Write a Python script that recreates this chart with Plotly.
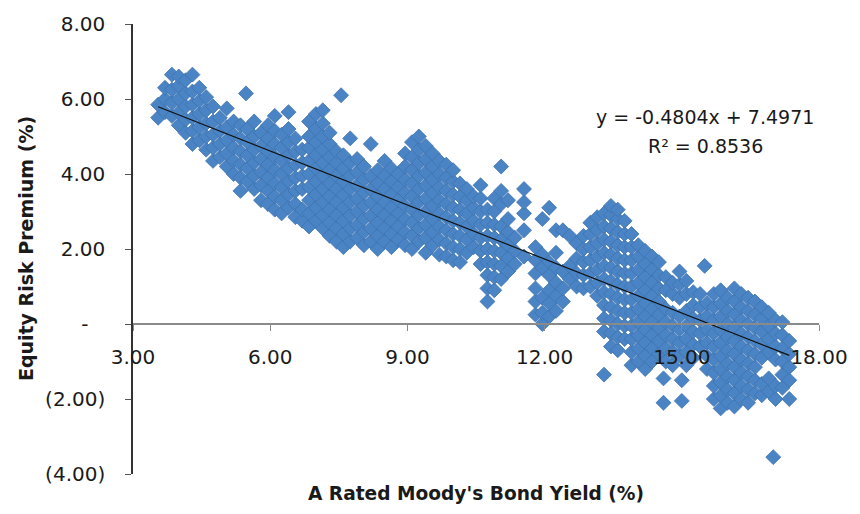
import plotly.graph_objects as go

# Bond yield columns (x, %) and the equity risk premium values (%) observed at each
yield_cols = [3.55, 3.7, 3.85, 4.0, 4.15, 4.3, 4.45, 4.6, 4.75, 4.9, 5.05, 5.2, 5.35, 5.47, 5.5,
              5.65, 5.8, 5.95, 6.1, 6.25, 6.4, 6.55, 6.7, 6.85, 7.0, 7.15, 7.3, 7.45, 7.55, 7.6,
              7.75, 7.9, 8.05, 8.2, 8.35, 8.5, 8.65, 8.8, 8.95, 9.1, 9.25, 9.4, 9.55, 9.7, 9.85,
              10.0, 10.15, 10.3, 10.45, 10.6, 10.75, 10.9, 11.05, 11.2, 11.35, 11.55, 11.8, 11.95,
              12.1, 12.25, 12.4, 12.55, 12.7, 12.85, 13.0, 13.15, 13.3, 13.45, 13.6, 13.75, 13.9,
              14.05, 14.2, 14.35, 14.5, 14.6, 14.65, 14.8, 14.95, 15.0, 15.1, 15.25, 15.4, 15.5,
              15.55, 15.7, 15.85, 16.0, 16.15, 16.3, 16.45, 16.6, 16.75, 16.9, 17.0, 17.05, 17.2,
              17.35]

premium_cols = [
    [5.5, 5.85],
    [5.65, 6.0, 6.3],
    [5.55, 5.9, 6.25, 6.65],
    [5.3, 5.65, 6.0, 6.35, 6.6],
    [5.1, 5.45, 5.8, 6.15, 6.5],
    [4.8, 5.15, 5.5, 5.85, 6.2, 6.65],
    [4.9, 5.25, 5.6, 5.95, 6.3],
    [4.65, 5.0, 5.35, 5.7, 6.05],
    [4.35, 4.7, 5.05, 5.4, 5.8],
    [4.45, 4.8, 5.15, 5.5],
    [4.2, 4.55, 4.9, 5.25, 5.75],
    [4.0, 4.35, 4.7, 5.05, 5.4],
    [3.55, 3.9, 4.25, 4.6, 4.95, 5.3],
    [6.15],
    [3.8, 4.15, 4.5, 4.85, 5.2],
    [3.6, 3.95, 4.3, 4.65, 5.0, 5.4],
    [3.3, 3.7, 4.05, 4.4, 4.75, 5.1],
    [3.2, 3.55, 3.9, 4.25, 4.6, 4.95, 5.3],
    [3.05, 3.4, 3.75, 4.1, 4.45, 4.8, 5.15, 5.55],
    [2.95, 3.3, 3.65, 4.0, 4.35, 4.7, 5.05],
    [3.1, 3.45, 3.8, 4.15, 4.5, 4.85, 5.2, 5.65],
    [2.85, 3.2, 3.55, 3.9, 4.25, 4.6, 4.95],
    [2.75, 3.05, 3.6, 3.95, 4.3, 4.65],
    [2.6, 2.95, 3.3, 3.65, 4.0, 4.35, 4.7, 5.0, 5.4],
    [2.75, 3.1, 3.45, 3.8, 4.15, 4.5, 4.85, 5.2, 5.6],
    [2.55, 2.9, 3.25, 3.6, 3.95, 4.3, 4.65, 5.0, 5.35, 5.7],
    [2.35, 2.7, 3.05, 3.4, 3.75, 4.1, 4.45, 4.8, 5.1],
    [2.2, 2.55, 2.9, 3.25, 3.6, 3.95, 4.3, 4.6],
    [6.1],
    [2.05, 2.4, 2.75, 3.1, 3.45, 3.8, 4.15, 4.5],
    [2.2, 2.55, 2.9, 3.25, 3.6, 3.95, 4.3, 4.95],
    [2.3, 2.65, 3.0, 3.35, 3.7, 4.05, 4.4],
    [2.1, 2.45, 2.8, 3.15, 3.5, 3.85, 4.2],
    [2.2, 2.55, 2.9, 3.25, 3.6, 3.95, 4.8],
    [2.0, 2.35, 2.7, 3.05, 3.4, 3.75, 4.1],
    [2.2, 2.55, 2.9, 3.25, 3.6, 3.95, 4.35],
    [2.05, 2.4, 2.75, 3.1, 3.45, 3.8, 4.15],
    [2.25, 2.6, 2.95, 3.3, 3.65, 4.0],
    [2.1, 2.45, 2.8, 3.15, 3.5, 3.85, 4.2, 4.55],
    [2.0, 2.35, 2.7, 3.05, 3.4, 3.75, 4.1, 4.45, 4.85],
    [2.2, 2.55, 2.9, 3.25, 3.6, 3.95, 4.3, 4.65, 5.0],
    [1.9, 2.3, 2.65, 3.0, 3.35, 3.7, 4.05, 4.4, 4.75],
    [2.1, 2.45, 2.8, 3.15, 3.5, 3.85, 4.2, 4.55],
    [1.85, 2.25, 2.6, 2.95, 3.3, 3.65, 4.0, 4.35],
    [1.8, 2.15, 2.5, 2.85, 3.2, 3.55, 3.9, 4.25],
    [1.7, 2.05, 2.4, 2.75, 3.1, 3.45, 3.8, 4.1],
    [1.65, 2.0, 2.35, 2.7, 3.05, 3.4, 3.75],
    [1.9, 2.25, 2.6, 2.95, 3.3, 3.6],
    [2.05, 2.4, 2.75, 3.1, 3.4],
    [1.6, 1.95, 2.3, 2.65, 3.0, 3.35, 3.7],
    [0.6, 0.95, 1.3, 1.65, 2.0, 2.35, 2.7, 3.05],
    [0.9, 1.25, 1.6, 1.95, 2.3, 2.65, 3.0, 3.35],
    [1.2, 1.55, 1.9, 2.25, 2.6, 3.2, 3.55, 4.2],
    [1.4, 1.75, 2.1, 2.45, 2.8, 3.3],
    [1.6, 1.95, 2.3],
    [1.8, 2.5, 2.95, 3.25, 3.6],
    [0.25, 0.6, 0.95, 1.35, 1.7, 2.05],
    [0.0, 0.3, 0.7, 1.5, 1.85, 2.8],
    [0.2, 0.55, 0.9, 1.3, 1.65, 3.1],
    [0.35, 0.75, 1.1, 1.5, 1.9, 2.5],
    [0.6, 0.95, 1.4, 2.5],
    [1.2, 1.55, 2.35],
    [1.0, 1.35, 1.75, 2.15],
    [0.95, 1.3, 1.65, 2.0, 2.35],
    [1.0, 1.35, 1.7, 2.05, 2.4, 2.7],
    [0.75, 1.1, 1.45, 1.8, 2.15, 2.5, 2.85],
    [-1.35, -0.2, 0.15, 0.5, 0.85, 1.2, 1.55, 1.9, 2.25, 2.6, 2.95],
    [-0.6, -0.25, 0.1, 0.45, 0.8, 1.15, 1.5, 1.85, 2.2, 2.55, 2.9, 3.15],
    [-0.7, -0.35, 0.0, 0.35, 0.7, 1.05, 1.4, 1.75, 2.1, 2.45, 2.8, 3.05],
    [-0.4, -0.05, 0.3, 0.65, 1.0, 1.35, 1.7, 2.05, 2.4, 2.75],
    [-1.1, -0.75, -0.4, -0.05, 0.3, 0.65, 1.0, 1.35, 1.7, 2.05, 2.4],
    [-1.0, -0.65, -0.3, 0.05, 0.4, 0.75, 1.1, 1.45, 1.8, 2.1],
    [-1.2, -0.85, -0.5, -0.15, 0.2, 0.55, 0.9, 1.25, 1.6, 1.95],
    [-1.0, -0.65, -0.3, 0.05, 0.4, 0.75, 1.1, 1.45, 1.8],
    [-0.8, -0.45, -0.1, 0.25, 0.6, 0.95, 1.3, 1.65],
    [-2.1, -1.45],
    [-1.0, -0.65, -0.3, 0.05, 0.4, 0.9, 1.25],
    [-1.1, -0.75, -0.4, -0.05, 0.3, 0.8, 1.1],
    [-0.85, -0.5, -0.15, 0.2, 0.7, 1.05, 1.4],
    [-2.05, -1.5],
    [-1.1, -0.75, -0.4, -0.05, 0.35, 0.8, 1.15],
    [-0.9, -0.55, -0.2, 0.15, 0.5, 0.85],
    [-0.6, -0.25, 0.1, 0.45, 0.8],
    [1.55],
    [-1.2, -0.85, -0.5, -0.15, 0.2, 0.55],
    [-2.0, -1.65, -1.3, -0.95, -0.6, -0.25, 0.1, 0.45, 0.8],
    [-2.25, -1.9, -1.55, -1.2, -0.85, -0.5, -0.15, 0.2, 0.55, 0.9],
    [-2.1, -1.75, -1.4, -1.05, -0.7, -0.35, 0.0, 0.35, 0.7],
    [-2.2, -1.85, -1.5, -1.15, -0.8, -0.45, -0.1, 0.25, 0.6, 0.95],
    [-2.0, -1.65, -1.3, -0.95, -0.6, -0.25, 0.1, 0.45, 0.8],
    [-2.1, -1.75, -1.4, -1.05, -0.7, -0.35, 0.0, 0.35, 0.7],
    [-1.85, -1.5, -1.15, -0.8, -0.45, -0.1, 0.25, 0.6],
    [-1.9, -1.6, -0.9, -0.55, -0.2, 0.15, 0.45],
    [-1.8, -1.45, -0.75, -0.4, -0.05, 0.3],
    [-3.55],
    [-2.0, -1.65, -0.95, -0.6, -0.25, 0.1],
    [-1.7, -1.35, -1.0, -0.65, -0.3, 0.05],
    [-2.0, -1.5, -1.15, -0.8, -0.45],
]

# Trendline as printed on the chart
trend_slope = -0.4804
trend_intercept = 7.4971
trend_label = "y = -0.4804x + 7.4971"
r2_label = "R\u00b2 = 0.8536"

x_ticks = [3, 6, 9, 12, 15, 18]
x_ticktext = ["3.00", "6.00", "9.00", "12.00", "15.00", "18.00"]
y_ticks = [-4, -2, 0, 2, 4, 6, 8]
y_ticktext = ["(4.00)", "(2.00)", "-\u00a0\u00a0\u2009", "2.00", "4.00", "6.00", "8.00"]

bond_yield = []
equity_premium = []
for xv, ys in zip(yield_cols, premium_cols):
    for yv in ys:
        bond_yield.append(xv)
        equity_premium.append(yv)

x_lo, x_hi = min(bond_yield), max(bond_yield)

FONT = "DejaVu Sans"
TXT = "#1a1a1a"

fig = go.Figure()
fig.add_trace(go.Scatter(
    x=bond_yield, y=equity_premium, mode="markers",
    marker=dict(symbol="diamond", size=11.5, color="#4A84C4",
                line=dict(color="#3E72AE", width=0.8)),
    showlegend=False, hoverinfo="skip",
))
fig.add_trace(go.Scatter(
    x=[x_lo, x_hi],
    y=[trend_slope * x_lo + trend_intercept, trend_slope * x_hi + trend_intercept],
    mode="lines", line=dict(color="#111111", width=1.2),
    showlegend=False, hoverinfo="skip",
))

fig.update_layout(
    width=860, height=514,
    margin=dict(l=133, r=34, t=18, b=40),
    paper_bgcolor="white", plot_bgcolor="white",
    font=dict(family=FONT, color=TXT, size=19),
    xaxis=dict(
        range=[3, 18], tickvals=x_ticks, ticktext=x_ticktext,
        anchor="free", position=1/3,
        showline=True, linecolor="#8a8a8a", linewidth=1.5,
        ticks="outside", ticklen=6, tickcolor="#8a8a8a",
        showgrid=False, zeroline=False,
        tickfont=dict(family=FONT, size=20, color=TXT),
        ticklabelstandoff=9,
    ),
    yaxis=dict(
        range=[-4, 8], domain=[0, 1], tickvals=y_ticks, ticktext=y_ticktext,
        showline=True, linecolor="#333333", linewidth=1.5,
        ticks="outside", ticklen=6, tickcolor="#555555",
        showgrid=False, zeroline=False,
        tickfont=dict(family=FONT, size=20, color=TXT),
        ticklabelstandoff=16,
    ),
    annotations=[
        dict(text="<b>A Rated Moody's Bond Yield (%)</b>", xref="paper", yref="paper",
             x=0.5, y=-20 / 456, xanchor="center", yanchor="middle", showarrow=False,
             font=dict(family=FONT, size=18.6, color=TXT)),
        dict(text="<b>Equity Risk Premium (%)</b>", xref="paper", yref="paper",
             x=-108 / 693, y=0.5, xanchor="center", yanchor="middle", textangle=-90,
             showarrow=False, font=dict(family=FONT, size=19, color=TXT)),
        dict(text=trend_label, xref="x", yref="y", x=15.51, y=5.53,
             xanchor="center", yanchor="middle", showarrow=False,
             font=dict(family=FONT, size=19, color=TXT)),
        dict(text=r2_label, xref="x", yref="y", x=15.51, y=4.74,
             xanchor="center", yanchor="middle", showarrow=False,
             font=dict(family=FONT, size=19, color=TXT)),
    ],
)

fig.write_html("out.html", config={"displayModeBar": False},
               post_script="document.body.style.margin='0';")
